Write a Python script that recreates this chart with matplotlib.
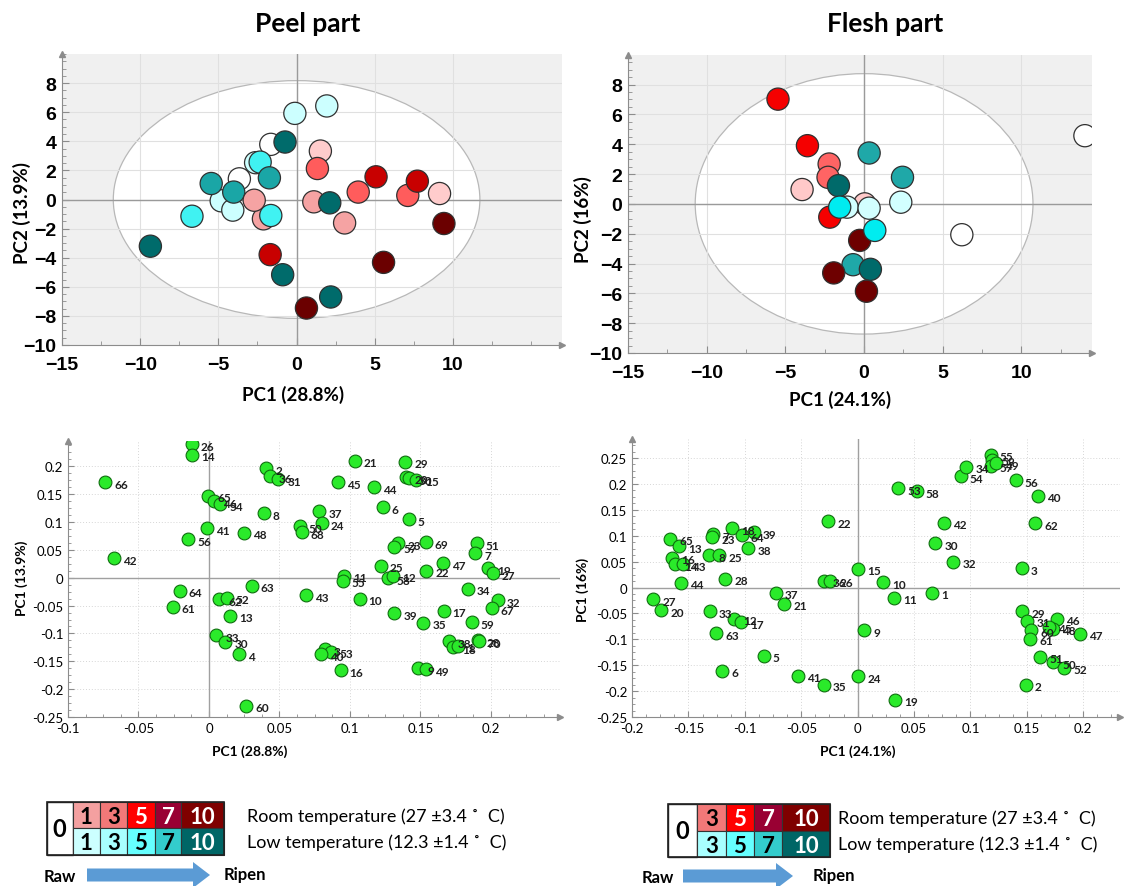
import numpy as np
import matplotlib
matplotlib.use('Agg')
import matplotlib.pyplot as plt
from matplotlib.patches import Ellipse, Rectangle, FancyArrow
from matplotlib.ticker import MultipleLocator, FixedLocator

plt.rcParams['font.family'] = ['Lato', 'DejaVu Sans']

W, H = 1135, 887

# ---- score plots (PCA scores) ----
peel_pc1 = [-1.65, -3.66, -2.62, -4.82, -4.08, -2.12, -0.11, 1.93, -0.74, 1.52, -2.33, -1.74, 1.33,
            -5.46, -4.02, -2.71, -1.65, -6.69, -9.35, -1.69, -0.89, 0.63, 2.18, 1.10, 2.12, 3.07,
            3.94, 5.08, 5.56, 7.11, 7.72, 9.14, 9.42]
peel_pc2 = [3.79, 1.42, 2.53, -0.09, -0.73, -1.33, 5.92, 6.43, 3.95, 3.33, 2.57, 1.49, 2.13,
            1.10, 0.51, -0.05, -1.10, -1.15, -3.21, -3.79, -5.17, -7.46, -6.70, -0.16, -0.23, -1.61,
            0.51, 1.56, -4.32, 0.28, 1.26, 0.41, -1.65]
peel_grp = ['0', '0', 'L1', 'L1', 'L1', 'R3', 'L1', 'L1', 'L10', 'R1', 'L3', 'L7', 'R5',
            'L7', 'L7', 'R3', 'L3', 'L3', 'L10', 'R7', 'L10', 'R10', 'L10', 'R3', 'L10', 'R3',
            'R5', 'R7', 'R10', 'R5', 'R7', 'R1', 'R10']

flesh_pc1 = [0.04, -5.47, -3.60, -2.22, -2.29, -3.94, -2.18, -1.08, -1.63, -1.55, 0.32, 0.32,
             2.44, 2.33, -0.28, 0.68, -0.70, 0.40, -1.93, 0.15, 6.21, 14.03]
flesh_pc2 = [0.00, 7.02, 3.90, 2.67, 1.78, 0.96, -0.89, -0.22, 1.22, -0.22, -0.29, 3.41,
             1.78, 0.11, -2.45, -1.78, -4.08, -4.39, -4.63, -5.86, -2.07, 4.57]
flesh_grp = ['R3', 'R7', 'R7', 'R5', 'R5', 'R3', 'R7', 'L3', 'L10', 'L5', 'L3', 'L7',
             'L7', 'L3', 'R10', 'L5', 'L7', 'L10', 'R10', 'R10', '0', '0']

peel_cols = {'0': 'white', 'R1': '#ffcccc', 'R3': '#f5a3a3', 'R5': '#ff5c5c', 'R7': '#c80000',
             'R10': '#6b0000', 'L1': '#ccffff', 'L3': '#40f2f2', 'L7': '#1aa6a6', 'L10': '#006b6b'}
flesh_cols = {'0': 'white', 'R3': '#ffc9c9', 'R5': '#ff6464', 'R7': '#f50000', 'R10': '#6e0000',
              'L3': '#d2ffff', 'L5': '#00ecf0', 'L7': '#1fa8a8', 'L10': '#006a6a'}

# ---- loading plots ----
peel_lab = ['26', '14', '66', '2', '36', '31', '65', '46', '54', '8', '41', '48', '56', '42',
            '64', '61', '63', '62', '52', '13', '33', '30', '4', '60',
            '21', '29', '20', '30', '15', '45', '44', '6', '5', '37', '24', '50', '68', '23', '57',
            '69', '51', '7', '47', '25', '22', '19', '27', '58', '12', '11', '55', '43', '10', '34',
            '32', '67', '39', '17', '35', '59', '38', '18', '1', '28', '70', '3', '53', '40', '16',
            '9', '49']
peel_l1 = [-0.0122, -0.0122, -0.0737, 0.0408, 0.0432, 0.0493, -0.0005, 0.0035, 0.008, 0.039,
           -0.0016, 0.0249, -0.0148, -0.0674, -0.0207, -0.0256, 0.0303, 0.0073, 0.0127, 0.015,
           0.0052, 0.0117, 0.0216, 0.0265,
           0.1035, 0.1392, 0.1397, 0.142, 0.1472, 0.0912, 0.1172, 0.1231, 0.1416, 0.0782, 0.0801,
           0.0645, 0.0657, 0.1343, 0.1312, 0.1539, 0.1898, 0.1887, 0.1657, 0.1217, 0.1541, 0.1981,
           0.2014, 0.1267, 0.1307, 0.096, 0.0948, 0.069, 0.1068, 0.1837, 0.2047, 0.2007, 0.1314,
           0.1664, 0.152, 0.1865, 0.1702, 0.1733, 0.177, 0.1905, 0.1912, 0.0823, 0.0863, 0.0792,
           0.0934, 0.1485, 0.1536]
peel_l2 = [0.240, 0.221, 0.171, 0.197, 0.182, 0.177, 0.147, 0.137, 0.132, 0.116, 0.089, 0.081,
           0.069, 0.035, -0.023, -0.052, -0.014, -0.039, -0.036, -0.068, -0.103, -0.115, -0.137,
           -0.230,
           0.210, 0.208, 0.181, 0.179, 0.176, 0.172, 0.163, 0.127, 0.105, 0.119, 0.098, 0.093,
           0.0815, 0.062, 0.056, 0.0635, 0.0625, 0.044, 0.026, 0.0216, 0.013, 0.017, 0.008,
           -0.0005, 0.004, 0.004, -0.005, -0.0316, -0.0377, -0.020, -0.0406, -0.055, -0.064,
           -0.059, -0.081, -0.080, -0.114, -0.125, -0.122, -0.112, -0.114, -0.128, -0.133, -0.137,
           -0.166, -0.162, -0.164]

flesh_lab = ['65', '13', '16', '14', '43', '44', '27', '20', '7', '23', '18', '64', '39', '38',
             '8', '25', '28', '22', '37', '21', '33', '12', '17', '63', '5', '6', '41', '35', '24',
             '36', '26', '15', '9', '55', '59', '57', '49', '54', '34', '56', '40', '53', '58',
             '42', '62', '30', '32', '3', '10', '11', '1', '19', '29', '31', '60', '61', '46', '48',
             '45', '47', '51', '50', '52', '2']
flesh_l1 = [-0.1662, -0.1585, -0.1642, -0.162, -0.155, -0.1565, -0.181, -0.174, -0.128, -0.129,
            -0.1115, -0.1027, -0.0918, -0.0968, -0.1316, -0.1225, -0.1172, -0.0259, -0.0723,
            -0.0652, -0.1308, -0.1095, -0.103, -0.1254, -0.0832, -0.1199, -0.0525, -0.0297, 0.0004,
            -0.0297, -0.0244, 0.0007, 0.0058, 0.1181, 0.1195, 0.1181, 0.1228, 0.0915, 0.0965, 0.140,
            0.160, 0.0362, 0.0525, 0.0767, 0.1574, 0.069, 0.085, 0.1456, 0.0229, 0.0324, 0.0663,
            0.0332, 0.1461, 0.1505, 0.1538, 0.153, 0.1771, 0.1733, 0.1698, 0.1973, 0.1618, 0.1733,
            0.183, 0.149]
flesh_l2 = [0.094, 0.080, 0.0575, 0.0446, 0.045, 0.0093, -0.023, -0.044, 0.103, 0.097, 0.115,
            0.1006, 0.107, 0.076, 0.062, 0.062, 0.017, 0.128, -0.010, -0.031, -0.046, -0.060,
            -0.067, -0.088, -0.132, -0.161, -0.170, -0.188, -0.171, 0.013, 0.013, 0.036, -0.083,
            0.256, 0.247, 0.235, 0.240, 0.2145, 0.233, 0.207, 0.177, 0.192, 0.186, 0.125, 0.124,
            0.086, 0.050, 0.0376, 0.0106, -0.020, -0.010, -0.2166, -0.046, -0.064, -0.083, -0.099,
            -0.060, -0.0795, -0.076, -0.089, -0.134, -0.1446, -0.155, -0.188]

# ---- legend ----
peel_days = ['1', '3', '5', '7', '10']
flesh_days = ['3', '5', '7', '10']
room_cols = {'1': '#f4a0a0', '3': '#f27878', '5': '#ff0000', '7': '#990033', '10': '#7f0000'}
low_cols = {'1': '#ccffff', '3': '#a8ffff', '5': '#66ffff', '7': '#33cccc', '10': '#006666'}
white_txt = {'room': ['5', '7', '10'], 'low': ['10']}


def px_axes(fig, l, t, r, b):
    return fig.add_axes([l / W, 1 - b / H, (r - l) / W, (b - t) / H])


def arrows(ax):
    ax.plot(1, 0, '>', transform=ax.transAxes, clip_on=False, color='#8c8c8c', ms=5, zorder=5)
    ax.plot(0, 1, '^', transform=ax.transAxes, clip_on=False, color='#8c8c8c', ms=5, zorder=5)


def score_panel(ax, pc1, pc2, grp, cols, xmax, ymax, ell):
    ax.set_facecolor('#f0f0f0')
    ax.add_patch(Ellipse((0, 0), 2 * ell[0], 2 * ell[1], fc='white', ec='#b8b8b8', lw=0.9, zorder=1))
    ax.set_axisbelow('line')
    ax.grid(True, color='#e0e0e0', lw=0.8)
    ax.axhline(0, color='#9a9a9a', lw=1, zorder=2)
    ax.axvline(0, color='#9a9a9a', lw=1, zorder=2)
    ax.scatter(pc1, pc2, s=255, c=[cols[g] for g in grp], edgecolors='#303030', linewidths=0.9, zorder=3)
    ax.set_xlim(-15, xmax)
    ax.set_ylim(-10, ymax)
    ax.xaxis.set_major_locator(FixedLocator([-15, -10, -5, 0, 5, 10]))
    ax.xaxis.set_minor_locator(MultipleLocator(2.5))
    ax.yaxis.set_major_locator(FixedLocator(list(range(-10, 9, 2))))
    ax.yaxis.set_minor_locator(MultipleLocator(0.5))
    for s in ['top', 'right']:
        ax.spines[s].set_visible(False)
    for s in ['left', 'bottom']:
        ax.spines[s].set_color('#8c8c8c')
    ax.tick_params(which='both', direction='in', color='#8c8c8c')
    ax.tick_params(which='major', length=5, labelsize=14, pad=4)
    ax.tick_params(axis='x', which='major', pad=8)
    ax.tick_params(which='minor', length=3)
    for lab in ax.get_xticklabels() + ax.get_yticklabels():
        lab.set_fontweight('bold')
        lab.set_family('Liberation Sans')
    arrows(ax)


def loading_panel(ax, lab, l1, l2, xlim, ylim, xt, yt):
    ax.set_axisbelow('line')
    ax.grid(True, color='#d6d6d6', lw=0.7, ls=(0, (1, 2)))
    ax.axhline(0, color='#a0a0a0', lw=1, zorder=2)
    ax.axvline(0, color='#a0a0a0', lw=1, zorder=2)
    ax.scatter(l1, l2, s=85, c='#2aea2a', edgecolors='#0f6e0f', linewidths=0.8, zorder=3)
    for t, x, y in zip(lab, l1, l2):
        ax.annotate(t, (x, y), xytext=(6.5, -1.5), textcoords='offset points', fontsize=8.5,
                    fontweight='bold', va='center', color='#202020', zorder=4)
    ax.set_xlim(*xlim)
    ax.set_ylim(*ylim)
    ax.set_xticks(xt)
    ax.set_xticklabels(['{:g}'.format(v) for v in xt])
    ax.set_yticks(yt)
    ax.set_yticklabels(['{:g}'.format(v) for v in yt])
    ax.xaxis.set_minor_locator(MultipleLocator(0.0125))
    ax.yaxis.set_minor_locator(MultipleLocator(0.0125))
    for s in ['top', 'right']:
        ax.spines[s].set_visible(False)
    for s in ['left', 'bottom']:
        ax.spines[s].set_color('#8c8c8c')
    ax.tick_params(which='both', direction='in', color='#8c8c8c', labelsize=9.5)
    ax.tick_params(which='major', length=4)
    ax.tick_params(which='minor', length=2)
    arrows(ax)


def legend(ax, x0, y0, days, zw, widths, rh, tx):
    ax.add_patch(Rectangle((x0, y0), zw, 2 * rh, fc='white', ec='#222222', lw=1))
    ax.text(x0 + zw / 2, y0 + rh, '0', ha='center', va='center', fontsize=17, fontweight='bold')
    x = x0 + zw
    for d, w in zip(days, widths):
        ax.add_patch(Rectangle((x, y0), w, rh, fc=room_cols[d], ec='#333333', lw=0.8))
        ax.add_patch(Rectangle((x, y0 + rh), w, rh, fc=low_cols[d], ec='#333333', lw=0.8))
        ax.text(x + w / 2, y0 + rh / 2 + 1, d, ha='center', va='center', fontsize=16, fontweight='bold',
                color='white' if d in white_txt['room'] else 'black')
        ax.text(x + w / 2, y0 + 1.5 * rh + 1, d, ha='center', va='center', fontsize=16, fontweight='bold',
                color='white' if d in white_txt['low'] else 'black')
        x += w
    ax.add_patch(Rectangle((x0, y0), x - x0, 2 * rh, fc='none', ec='#222222', lw=1.2))
    ax.text(tx, y0 + rh / 2, 'Room temperature (27 \u00b13.4 \u02da  C)', ha='left', va='center', fontsize=13)
    ax.text(tx, y0 + 1.5 * rh, 'Low temperature (12.3 \u00b11.4 \u02da  C)', ha='left', va='center', fontsize=13)


fig = plt.figure(figsize=(11.35, 8.87), dpi=100)

ax1 = px_axes(fig, 62, 55, 562, 346)
score_panel(ax1, peel_pc1, peel_pc2, peel_grp, peel_cols, 16.97, 10.0, (11.72, 8.17))
ax2 = px_axes(fig, 628, 56, 1092, 354)
score_panel(ax2, flesh_pc1, flesh_pc2, flesh_grp, flesh_cols, 14.48, 9.98, (10.73, 8.73))

ax3 = px_axes(fig, 68, 442, 560, 718)
loading_panel(ax3, peel_lab, peel_l1, peel_l2, (-0.1, 0.249), (-0.25, 0.2455),
              [-0.1, -0.05, 0, 0.05, 0.1, 0.15, 0.2],
              [-0.25, -0.2, -0.15, -0.1, -0.05, 0, 0.05, 0.1, 0.15, 0.2])
ax4 = px_axes(fig, 632, 440, 1120, 718)
loading_panel(ax4, flesh_lab, flesh_l1, flesh_l2, (-0.2, 0.2326), (-0.25, 0.2867),
              [-0.2, -0.15, -0.1, -0.05, 0, 0.05, 0.1, 0.15, 0.2],
              [-0.25, -0.2, -0.15, -0.1, -0.05, 0, 0.05, 0.1, 0.15, 0.2, 0.25])

# titles and axis labels
def ftext(x, y, s, **kw):
    fig.text(x / W, 1 - y / H, s, ha='center', va='center', fontweight='bold', **kw)

ftext(308, 24, 'Peel part', fontsize=19)
ftext(885, 24, 'Flesh part', fontsize=19)
ftext(293, 395, 'PC1 (28.8%)', fontsize=13.5)
ftext(840, 400, 'PC1 (24.1%)', fontsize=13.5)
ftext(22, 213, 'PC2 (13.9%)', fontsize=13.5, rotation=90)
ftext(583, 220, 'PC2 (16%)', fontsize=13.5, rotation=90)
ftext(250, 752, 'PC1 (28.8%)', fontsize=10)
ftext(858, 752, 'PC1 (24.1%)', fontsize=10)
ftext(22, 578, 'PC1 (13.9%)', fontsize=10, rotation=90)
ftext(583, 590, 'PC1 (16%)', fontsize=10, rotation=90)

# legend panel
lg = fig.add_axes([0, 0, 1, 1])
lg.set_xlim(0, W)
lg.set_ylim(H, 0)
lg.axis('off')
lg.patch.set_alpha(0)
legend(lg, 46.7, 803.3, peel_days, 26, [27.3, 27.3, 27.3, 26.7, 42.7], 26.2, 247)
legend(lg, 668.3, 805, flesh_days, 28.4, [29.3, 28, 28, 48], 26.7, 838)
for x0, x1, yc, rx, px in [(87, 210, 876, 60, 224), (683, 793, 877, 658, 813)]:
    lg.add_patch(FancyArrow(x0, yc, x1 - x0, 0, width=13, head_width=26, head_length=17,
                            length_includes_head=True, color='#5b9bd5', lw=0))
    lg.text(rx, yc + 1, 'Raw', ha='center', va='center', fontsize=12, fontweight='bold')
    lg.text(px, yc - 1, 'Ripen', ha='left', va='center', fontsize=12, fontweight='bold')

fig.savefig('out.png', dpi=100)
